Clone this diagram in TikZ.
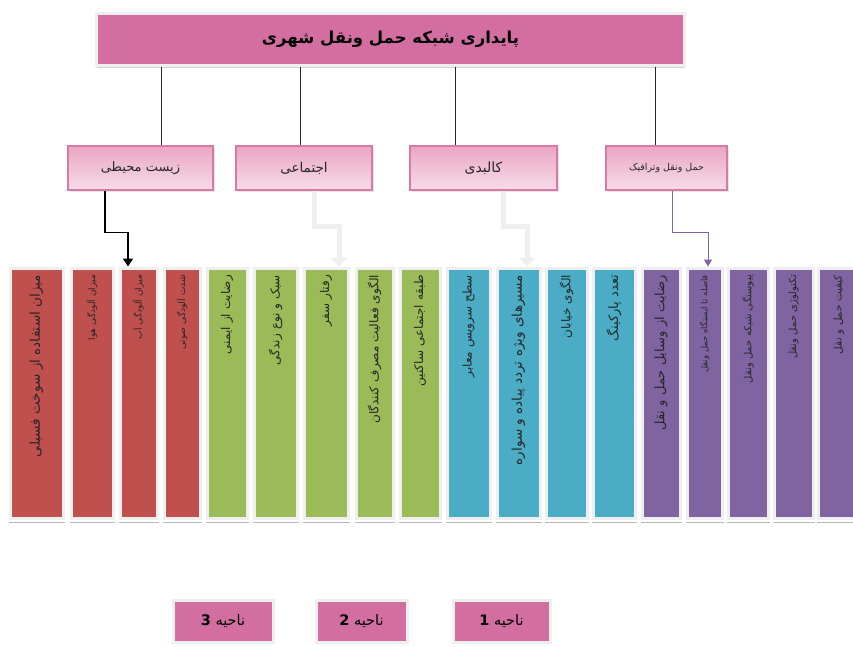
\documentclass[tikz,border=0pt]{standalone}
\usepackage{fontspec}
\newfontfamily\fa[Script=Arabic]{DejaVu Sans}
\TeXXeTstate=1
\usepackage{xcolor}
\usepackage{tikz}
\usetikzlibrary{arrows.meta,shadows}

\definecolor{headpink}{HTML}{D26EA0}
\definecolor{catedge}{HTML}{D97AA4}
\definecolor{cattop}{HTML}{EAA6C4}
\definecolor{catbot}{HTML}{F7DCE8}
\definecolor{envred}{HTML}{C0504D}
\definecolor{socgreen}{HTML}{9BBB59}
\definecolor{physblue}{HTML}{4BACC6}
\definecolor{trpurple}{HTML}{8064A2}
\definecolor{framegray}{HTML}{EFEFEF}

\newcommand{\rtl}[1]{\beginR #1\endR}
\newcommand{\fsz}[1]{\fontsize{#1}{#1}\selectfont}

\begin{document}
\begin{tikzpicture}[x=1pt, y=-1pt,
  every node/.style={font=\fa},
  headbox/.style={draw=framegray, line width=3pt, fill=headpink, inner sep=0pt,
    drop shadow={shadow xshift=0pt, shadow yshift=-3pt, fill=gray!60, opacity=.6}},
  catbox/.style={draw=catedge, line width=1.4pt, top color=cattop, bottom color=catbot,
    minimum height=44pt, inner sep=0pt, text=black!85,
    drop shadow={shadow xshift=2pt, shadow yshift=-2pt, fill=gray!40, opacity=.5}},
  colbox/.style={rotate=90, draw=framegray, line width=3pt, minimum width=250pt,
    text width=236pt, align=right, inner sep=5pt, text=black!85, font=\fa\fsz{12}},
  areabox/.style={draw=framegray, line width=3pt, fill=headpink, minimum height=42pt,
    inner sep=0pt, font=\fa\fsz{14.5},
    drop shadow={shadow xshift=1pt, shadow yshift=-2pt, fill=gray!40, opacity=.5}},
  link/.style={line width=0.8pt, black!85},
  blackarr/.style={line width=1.2pt, -{Triangle[width=10pt,length=8pt]}},
  greyarr/.style={line width=5pt, framegray, -{Triangle[width=16pt,length=9pt]}},
  purparr/.style={line width=1pt, trpurple, -{Triangle[width=8pt,length=7pt]}}
]
  \useasboundingbox (0,0) rectangle (853,646);

  % top
  \node[headbox, minimum width=588pt, minimum height=52pt, font=\fa\bfseries\fsz{16.5}]
    (head) at (390.5,39) {\rtl{پایداری شبکه حمل ونقل شهری}};

  % criteria
  \node[catbox, minimum width=145pt, font=\fa\fsz{13}] (env) at (140.5,168) {\rtl{زیست محیطی}};
  \node[catbox, minimum width=136pt, font=\fa\fsz{13.5}] (soc) at (304,168) {\rtl{اجتماعی}};
  \node[catbox, minimum width=147pt, font=\fa\fsz{14}] (phys) at (483.5,168) {\rtl{کالبدی}};
  \node[catbox, minimum width=121pt, font=\fa\fsz{9.5}] (trans) at (666.5,168) {\rtl{حمل ونقل وترافیک}};

  \coordinate (envtop) at ([xshift=20.5pt]env.north);
  \coordinate (soctop) at ([xshift=-4pt]soc.north);
  \coordinate (phystop) at ([xshift=-28.5pt]phys.north);
  \coordinate (transtop) at ([xshift=-11.5pt]trans.north);
  \draw[link] (envtop |- head.south) -- (envtop);
  \draw[link] (soctop |- head.south) -- (soctop);
  \draw[link] (phystop |- head.south) -- (phystop);
  \draw[link] (transtop |- head.south) -- (transtop);

  % indicators
  \node[colbox, fill=envred, minimum height=53pt, font=\fa\fsz{13.5}] (c1) at (36.5,393) {\rtl{میزان استفاده از سوخت فسیلی}};
  \node[colbox, fill=envred, minimum height=42pt, font=\fa\fsz{9}] (c2) at (92,393) {\rtl{میزان آلودگی هوا}};
  \node[colbox, fill=envred, minimum height=37pt, font=\fa\fsz{9}] (c3) at (138.5,393) {\rtl{میزان آلودگی آب}};
  \node[colbox, fill=envred, minimum height=36pt, font=\fa\fsz{9}] (c4) at (182,393) {\rtl{شدت آلودگی صوتی}};
  \node[colbox, fill=socgreen, minimum height=40pt] (c5) at (227,393) {\rtl{رضایت از ایمنی}};
  \node[colbox, fill=socgreen, minimum height=43pt] (c6) at (275.5,393) {\rtl{سبک و نوع زندگی}};
  \node[colbox, fill=socgreen, minimum height=44pt] (c7) at (326,393) {\rtl{رفتار سفر}};
  \node[colbox, fill=socgreen, minimum height=37pt] (c8) at (374.5,393) {\rtl{الگوی فعالیت مصرف کنندگان}};
  \node[colbox, fill=socgreen, minimum height=40pt] (c9) at (420,393) {\rtl{طبقه اجتماعی ساکنین}};
  \node[colbox, fill=physblue, minimum height=43pt] (c10) at (468.5,393) {\rtl{سطح سرویس معابر}};
  \node[colbox, fill=physblue, minimum height=43pt, font=\fa\fsz{13.5}] (c11) at (518.5,393) {\rtl{مسیرهای ویژه تردد پیاده و سواره}};
  \node[colbox, fill=physblue, minimum height=41pt] (c12) at (566.5,393) {\rtl{الگوی خیابان}};
  \node[colbox, fill=physblue, minimum height=42pt, font=\fa\fsz{13}] (c13) at (614,393) {\rtl{تعدد پارکینگ}};
  \node[colbox, fill=trpurple, minimum height=38pt, font=\fa\fsz{13}] (c14) at (661,393) {\rtl{رضایت از وسایل حمل و نقل}};
  \node[colbox, fill=trpurple, minimum height=35pt, font=\fa\fsz{8.5}] (c15) at (704.5,393) {\rtl{فاصله تا ایستگاه حمل ونقل}};
  \node[colbox, fill=trpurple, minimum height=40pt, font=\fa\fsz{10}] (c16) at (748,393) {\rtl{پیوستگی شبکه حمل ونقل}};
  \node[colbox, fill=trpurple, minimum height=39pt, font=\fa\fsz{10}] (c17) at (793.5,393) {\rtl{تکنولوژی حمل ونقل}};
  \node[colbox, fill=trpurple, minimum height=42pt, font=\fa\fsz{10.5}] (c18) at (839,393) {\rtl{کیفیت حمل و نقل}};

  \foreach \c in {c1,c2,c3,c4,c5,c6,c7,c8,c9,c10,c11,c12,c13,c14,c15,c16,c17,c18}
    \draw[gray!55, line width=1.2pt] ([yshift=-3pt]\c.north west) -- ([yshift=-3pt]\c.south west);

  % criteria to indicators
  \draw[blackarr] ([xshift=-35.5pt]env.south) -- ++(0,42) -| ([xshift=-10.5pt]c3.east);
  \draw[greyarr] ([xshift=10pt]soc.south) -- ++(0,36) -| ([xshift=13pt]c7.east);
  \draw[greyarr] ([xshift=19.5pt]phys.south) -- ++(0,36) -| ([xshift=8.5pt]c11.east);
  \draw[purparr] ([xshift=5.5pt]trans.south) -- ++(0,42) -| ([xshift=3.5pt]c15.east);

  % areas
  \node[areabox, minimum width=100pt] (area3) at (223,621) {\rtl{ناحیه \textbf{3}}};
  \node[areabox, minimum width=91pt] (area2) at (361.5,621) {\rtl{ناحیه \textbf{2}}};
  \node[areabox, minimum width=97pt] (area1) at (501.5,621) {\rtl{ناحیه \textbf{1}}};
\end{tikzpicture}
\end{document}
